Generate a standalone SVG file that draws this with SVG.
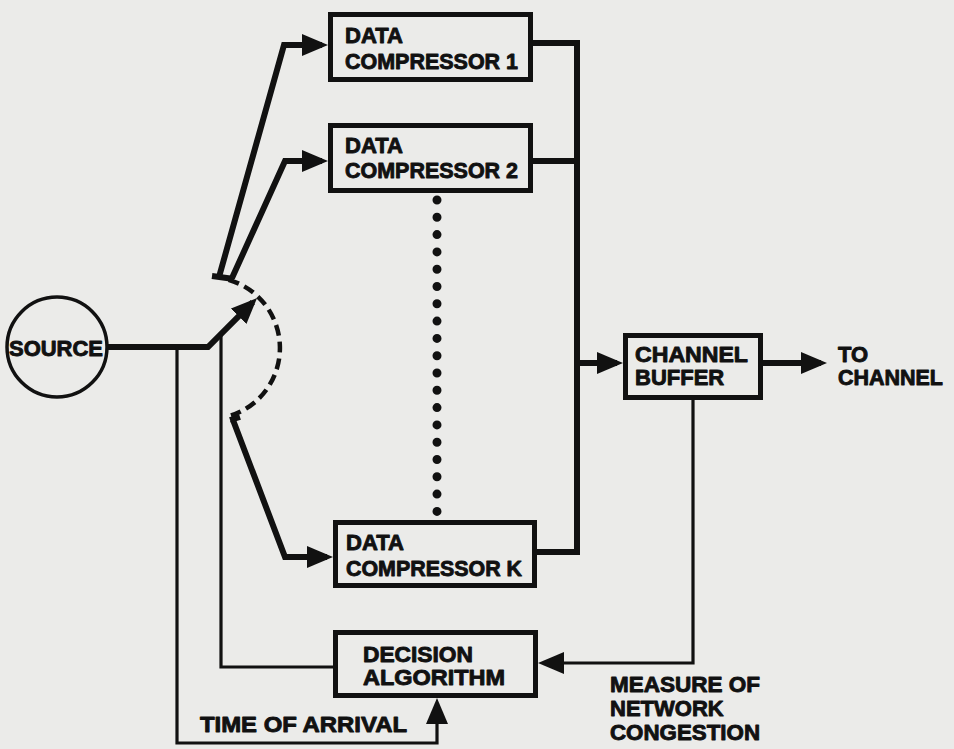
<svg xmlns="http://www.w3.org/2000/svg" width="954" height="749" viewBox="0 0 954 749">
<defs>
<style>
.bg{fill:#ebebe9}
.box{fill:none;stroke:#111;stroke-width:5}
.lbl{font-family:"Liberation Sans",Arial,Helvetica,sans-serif;font-weight:bold;font-size:22px;fill:#111;stroke:#111;stroke-width:0.9;stroke-linejoin:round}
.thick{fill:none;stroke:#111;stroke-width:6;stroke-linejoin:miter}
.thin{fill:none;stroke:#111;stroke-width:3.2}
.dash{fill:none;stroke:#111;stroke-width:4.5;stroke-dasharray:11 6}
.dots{fill:none;stroke:#111;stroke-width:9;stroke-linecap:round;stroke-dasharray:0 17.3}
</style>
<marker id="ah" markerUnits="userSpaceOnUse" markerWidth="28" markerHeight="24" refX="20" refY="11" orient="auto">
<path d="M0,0 L26,11 L0,22 z" fill="#111"/>
</marker>
</defs>
<rect class="bg" x="0" y="0" width="954" height="749"/>

<g id="connectors">
<path class="thick" d="M108,347 H208 L252.8,302.2" marker-end="url(#ah)"/>
<path class="thick" d="M212,276 L234,279"/>
<path class="thick" d="M219,277 L284,45 H322" marker-end="url(#ah)"/>
<path class="thick" d="M232,278 L285,161 H322" marker-end="url(#ah)"/>
<path class="thick" d="M230,420 L240,417"/>
<path class="thick" d="M233,420 L285,557 H327" marker-end="url(#ah)"/>
<path class="dash" d="M228.6,279.8 A71,71 0 0 1 231,415.5"/>
<path class="dots" d="M437,200 V512"/>
<path class="thick" d="M533,43 H577 V552 H537"/>
<path class="thick" d="M533,161 H577"/>
<path class="thick" d="M577,363 H617" marker-end="url(#ah)"/>
<path class="thick" d="M763,363 H821" marker-end="url(#ah)"/>
<path class="thin" d="M693,400 V663 H544" marker-end="url(#ah)"/>
<path class="thin" d="M177,347 V743 H437 V704" marker-end="url(#ah)"/>
<path class="thin" d="M221,334 V667 H333"/>
</g>

<g id="source">
<circle cx="57" cy="347" r="50" fill="none" stroke="#111" stroke-width="3.5"/>
<text class="lbl" x="56" y="356" text-anchor="middle" textLength="94" lengthAdjust="spacingAndGlyphs">SOURCE</text>
</g>

<g id="compressor1">
<rect class="box" x="330.5" y="14.5" width="200" height="65"/>
<text class="lbl" x="345" y="43">DATA</text>
<text class="lbl" x="345" y="69" textLength="173" lengthAdjust="spacingAndGlyphs">COMPRESSOR 1</text>
</g>

<g id="compressor2">
<rect class="box" x="330.5" y="125.5" width="200" height="65"/>
<text class="lbl" x="345" y="153">DATA</text>
<text class="lbl" x="345" y="178" textLength="173" lengthAdjust="spacingAndGlyphs">COMPRESSOR 2</text>
</g>

<g id="compressorK">
<rect class="box" x="335.5" y="522.5" width="199" height="63"/>
<text class="lbl" x="346" y="550">DATA</text>
<text class="lbl" x="346" y="576" textLength="176" lengthAdjust="spacingAndGlyphs">COMPRESSOR K</text>
</g>

<g id="channelBuffer">
<rect class="box" x="625.5" y="335.5" width="135" height="62"/>
<text class="lbl" x="635" y="362" textLength="113" lengthAdjust="spacingAndGlyphs">CHANNEL</text>
<text class="lbl" x="635" y="385">BUFFER</text>
</g>

<g id="decision">
<rect class="box" x="335.5" y="632.5" width="200" height="63"/>
<text class="lbl" x="363" y="662" textLength="110" lengthAdjust="spacingAndGlyphs">DECISION</text>
<text class="lbl" x="363" y="685" textLength="142" lengthAdjust="spacingAndGlyphs">ALGORITHM</text>
</g>

<g id="labels">
<text class="lbl" x="838" y="362">TO</text>
<text class="lbl" x="838" y="385" textLength="105" lengthAdjust="spacingAndGlyphs">CHANNEL</text>
<text class="lbl" x="200" y="732" textLength="207" lengthAdjust="spacingAndGlyphs">TIME OF ARRIVAL</text>
<text class="lbl" x="610" y="692" textLength="150" lengthAdjust="spacingAndGlyphs">MEASURE OF</text>
<text class="lbl" x="610" y="716">NETWORK</text>
<text class="lbl" x="610" y="740" textLength="150" lengthAdjust="spacingAndGlyphs">CONGESTION</text>
</g>
</svg>
